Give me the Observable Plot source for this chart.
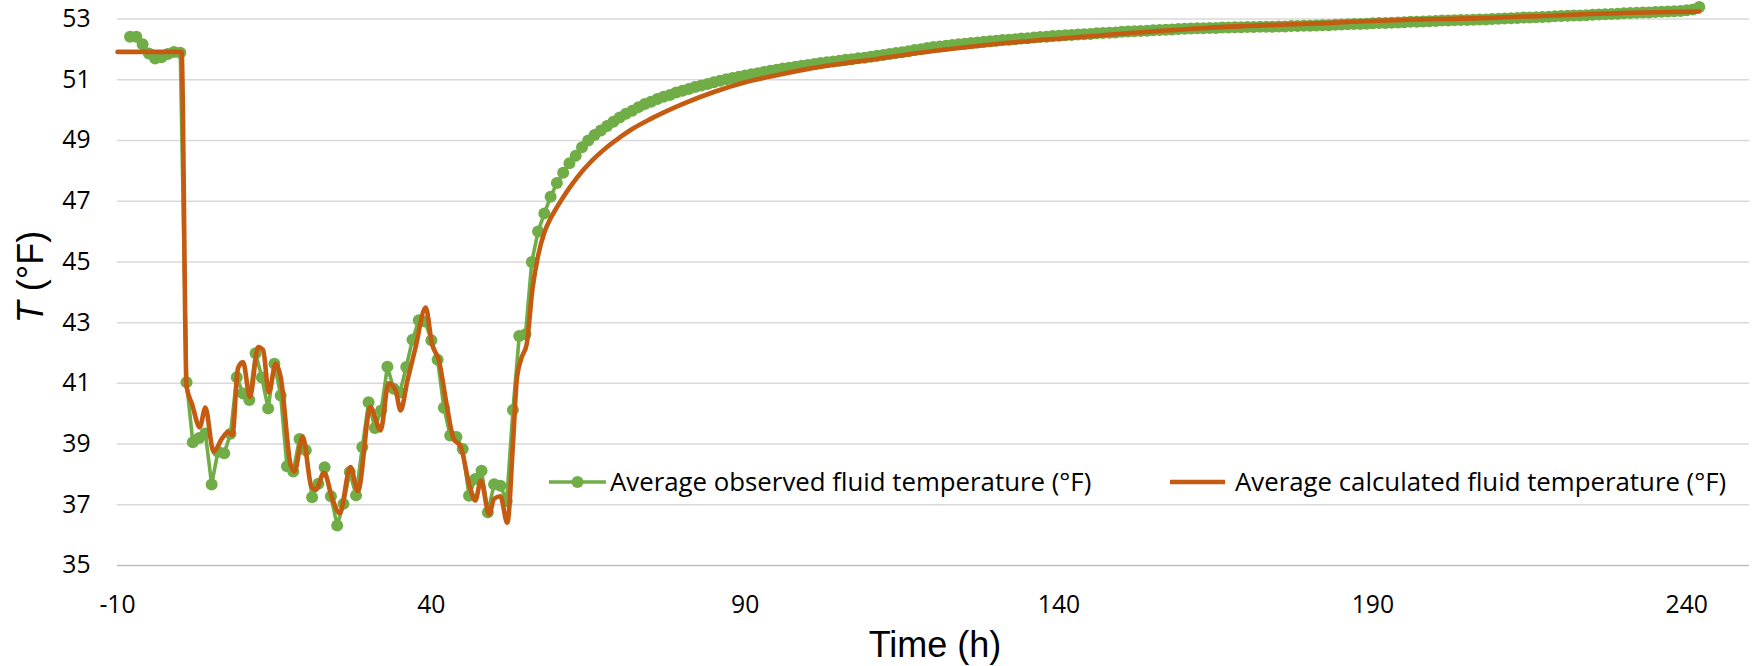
<!DOCTYPE html>
<html>
<head>
<meta charset="utf-8">
<script src="https://cdn.jsdelivr.net/npm/d3@7"></script>
<script src="https://cdn.jsdelivr.net/npm/@observablehq/plot@0.6"></script>
<style>
  html, body { margin: 0; padding: 0; background: #fff; }
  #chart { width: 1752px; height: 666px; position: relative; }
</style>
</head>
<body>
<div id="chart"></div>
<script>
// ---------- data ----------
const seriesNames = [
  "Average observed fluid temperature (°F)",
  "Average calculated fluid temperature (°F)"
];
const xTickValues = [-10, 40, 90, 140, 190, 240];
const yTickValues = [35, 37, 39, 41, 43, 45, 47, 49, 51, 53];
const xTitle = "Time (h)";
const yTitleItalic = "T";
const yTitleRest = " (°F)";

// observed: hourly readings
const obsHours = [
  -8, -7, -6, -5, -4, -3, -2, -1, 0, 1,
  2, 3, 4, 5, 6, 7, 8, 9, 10, 11,
  12, 13, 14, 15, 16, 17, 18, 19, 20, 21,
  22, 23, 24, 25, 26, 27, 28, 29, 30, 31,
  32, 33, 34, 35, 36, 37, 38, 39, 40, 41,
  42, 43, 44, 45, 46, 47, 48, 49, 50, 51,
  52, 53, 54, 55, 56, 57, 58, 59, 60, 61,
  62, 63, 64, 65, 66, 67, 68, 69, 70, 71,
  72, 73, 74, 75, 76, 77, 78, 79, 80, 81,
  82, 83, 84, 85, 86, 87, 88, 89, 90, 91,
  92, 93, 94, 95, 96, 97, 98, 99, 100, 101,
  102, 103, 104, 105, 106, 107, 108, 109, 110, 111,
  112, 113, 114, 115, 116, 117, 118, 119, 120, 121,
  122, 123, 124, 125, 126, 127, 128, 129, 130, 131,
  132, 133, 134, 135, 136, 137, 138, 139, 140, 141,
  142, 143, 144, 145, 146, 147, 148, 149, 150, 151,
  152, 153, 154, 155, 156, 157, 158, 159, 160, 161,
  162, 163, 164, 165, 166, 167, 168, 169, 170, 171,
  172, 173, 174, 175, 176, 177, 178, 179, 180, 181,
  182, 183, 184, 185, 186, 187, 188, 189, 190, 191,
  192, 193, 194, 195, 196, 197, 198, 199, 200, 201,
  202, 203, 204, 205, 206, 207, 208, 209, 210, 211,
  212, 213, 214, 215, 216, 217, 218, 219, 220, 221,
  222, 223, 224, 225, 226, 227, 228, 229, 230, 231,
  232, 233, 234, 235, 236, 237, 238, 239, 240, 241,
  242
];
const obsTemps = [
  52.42, 52.42, 52.17, 51.87, 51.70, 51.74, 51.85, 51.92, 51.89, 41.04,
  39.06, 39.20, 39.35, 37.67, 38.75, 38.70, 39.34, 41.20, 40.67, 40.45,
  41.99, 41.19, 40.17, 41.65, 40.60, 38.27, 38.10, 39.17, 38.80, 37.25,
  37.69, 38.24, 37.28, 36.32, 37.03, 38.08, 37.31, 38.90, 40.38, 39.53,
  40.11, 41.55, 40.82, 40.70, 41.54, 42.44, 43.08, 43.04, 42.42, 41.78,
  40.20, 39.28, 39.23, 38.84, 37.30, 37.85, 38.12, 36.75, 37.68, 37.63,
  37.12, 40.12, 42.56, 42.62, 45.00, 46.00, 46.60, 47.15, 47.60, 47.94,
  48.25, 48.50, 48.78, 49.00, 49.18, 49.33, 49.48, 49.62, 49.76, 49.88,
  49.98, 50.10, 50.20, 50.28, 50.37, 50.44, 50.50, 50.58, 50.64, 50.70,
  50.76, 50.81, 50.86, 50.92, 50.97, 51.02, 51.06, 51.10, 51.14, 51.18,
  51.22, 51.26, 51.30, 51.33, 51.37, 51.40, 51.43, 51.46, 51.49, 51.52,
  51.55, 51.58, 51.60, 51.63, 51.66, 51.68, 51.71, 51.73, 51.76, 51.79,
  51.82, 51.85, 51.88, 51.91, 51.94, 51.98, 52.01, 52.05, 52.08, 52.10,
  52.12, 52.15, 52.17, 52.19, 52.21, 52.23, 52.25, 52.27, 52.29, 52.31,
  52.32, 52.34, 52.36, 52.37, 52.39, 52.41, 52.42, 52.44, 52.45, 52.47,
  52.48, 52.49, 52.50, 52.51, 52.53, 52.54, 52.55, 52.56, 52.58, 52.59,
  52.60, 52.61, 52.62, 52.63, 52.64, 52.65, 52.66, 52.67, 52.68, 52.69,
  52.70, 52.70, 52.71, 52.71, 52.72, 52.72, 52.73, 52.73, 52.74, 52.74,
  52.75, 52.75, 52.75, 52.76, 52.76, 52.77, 52.77, 52.78, 52.78, 52.79,
  52.80, 52.80, 52.81, 52.82, 52.83, 52.84, 52.84, 52.85, 52.86, 52.87,
  52.87, 52.88, 52.89, 52.90, 52.91, 52.91, 52.92, 52.93, 52.94, 52.95,
  52.95, 52.96, 52.97, 52.97, 52.98, 52.99, 52.99, 53.00, 53.01, 53.02,
  53.03, 53.04, 53.05, 53.05, 53.06, 53.07, 53.08, 53.09, 53.10, 53.11,
  53.12, 53.12, 53.13, 53.14, 53.15, 53.16, 53.17, 53.18, 53.19, 53.20,
  53.21, 53.22, 53.22, 53.23, 53.24, 53.25, 53.26, 53.27, 53.29, 53.32,
  53.40
];

// calculated: points
const calcHours = [
  -10, 0.2, 1.0, 1.9, 3.1, 4.0, 5.3, 6.7, 7.6, 8.3,
  9.2, 10.0, 11.1, 12.4, 13.2, 14.1, 15.2, 16.0, 17.6, 18.2,
  19.5, 20.9, 21.6, 22.9, 24.3, 25.4, 27.1, 28.3, 30.3, 31.9,
  33.2, 34.3, 35.1, 36.2, 37.5, 39.1, 40.1, 41.2, 42.5, 43.5,
  44.7, 46.0, 47.0, 47.9, 49.2, 50.0, 51.0, 52.1, 53.0, 53.6,
  54.3, 55.2, 56.1, 57.0, 58.0, 59.0, 60.0, 61.0, 62.0, 63.0,
  64.0, 65.0, 66.0, 67.0, 68.0, 70.0, 72.0, 75.0, 80.0, 85.0,
  90.0, 95.0, 100.0, 105.0, 110.0, 120.0, 130.0, 141.3, 151.9, 162.6,
  173.2, 181.7, 188.6, 209.8, 231.0, 242.0
];
const calcTemps = [
  51.92, 51.92, 40.90, 40.30, 39.55, 40.20, 38.75, 39.20, 39.40, 39.30,
  41.50, 41.70, 40.55, 42.20, 42.10, 40.70, 41.65, 41.20, 38.30, 38.10,
  39.25, 37.60, 37.50, 38.05, 37.15, 36.72, 38.24, 37.45, 40.22, 39.45,
  41.00, 40.77, 40.11, 41.10, 42.20, 43.50, 42.30, 41.76, 40.22, 39.20,
  38.90, 37.70, 37.14, 37.80, 36.68, 37.20, 37.28, 36.40, 39.00, 41.10,
  41.80, 42.30, 44.10, 45.20, 45.97, 46.44, 46.80, 47.13, 47.44, 47.72,
  47.98, 48.21, 48.42, 48.61, 48.79, 49.10, 49.38, 49.72, 50.20, 50.60,
  50.92, 51.15, 51.36, 51.52, 51.66, 51.95, 52.18, 52.38, 52.55, 52.70,
  52.80, 52.86, 52.93, 53.05, 53.21, 53.25
];

// ---------- build ----------
const green = "#70ad47";
const orange = "#c55a11";
const obs = obsHours.map((t, i) => ({t, v: obsTemps[i]}));
const calc = calcHours.map((t, i) => ({t, v: calcTemps[i]}));

const chart = Plot.plot({
  width: 1752,
  height: 666,
  marginLeft: 117,
  marginRight: 3,
  marginTop: 18.6,
  marginBottom: 101,
  style: {fontFamily: "'Open Sans', sans-serif", fontSize: "24.7px", color: "#000", background: "#fff", overflow: "visible"},
  x: {domain: [-10, 250]},
  y: {domain: [35, 53]},
  marks: [
    Plot.gridY(yTickValues.filter(d => d > 35), {stroke: "#d9d9d9", strokeOpacity: 1, strokeWidth: 1.5}),
    Plot.ruleY([35], {stroke: "#bfbfbf", strokeWidth: 1.5}),
    Plot.axisY({ticks: yTickValues, tickSize: 0, tickPadding: 27, label: null, fontSize: 24.7, tickFormat: d => String(d)}),
    Plot.axisX({ticks: xTickValues, tickSize: 0, tickPadding: 30, label: null, fontSize: 24.7, tickFormat: d => String(d)}),
    Plot.line(obs, {x: "t", y: "v", stroke: green, strokeWidth: 3.6}),
    Plot.dot(obs, {x: "t", y: "v", r: 6, fill: green, stroke: "none"}),
    Plot.line(calc, {x: "t", y: "v", stroke: orange, strokeWidth: 4.6, curve: "monotone-x"})
  ]
});
document.getElementById("chart").append(chart);

// ---------- legend and axis titles ----------
const svg = d3.select(chart);
const legendItems = [
  {label: seriesNames[0], color: green, marker: true, x0: 549, x1: 606, tx: 610},
  {label: seriesNames[1], color: orange, marker: false, x0: 1170, x1: 1225, tx: 1235}
];
const lg = svg.append("g").attr("class", "legend").attr("text-anchor", "start");
const ly = 482;
for (const it of legendItems) {
  lg.append("line").attr("x1", it.x0).attr("x2", it.x1).attr("y1", ly).attr("y2", ly)
    .attr("stroke", it.color).attr("stroke-width", it.marker ? 3.6 : 4.6);
  if (it.marker) lg.append("circle").attr("cx", (it.x0 + it.x1) / 2).attr("cy", ly).attr("r", 6).attr("fill", it.color);
  lg.append("text").attr("x", it.tx).attr("y", ly + 9.2).attr("text-anchor", "start")
    .attr("font-family", "'Open Sans', sans-serif").attr("font-size", 25.8).attr("fill", "#000")
    .text(it.label);
}
svg.append("text").attr("x", 935).attr("y", 656.7).attr("text-anchor", "middle")
  .attr("font-family", "'Liberation Sans', Arial, sans-serif").attr("font-size", 36).attr("fill", "#000")
  .text(xTitle);
const yt = svg.append("text").attr("transform", "translate(43,277) rotate(-90)").attr("text-anchor", "middle")
  .attr("font-family", "'Liberation Sans', Arial, sans-serif").attr("font-size", 36).attr("fill", "#000");
yt.append("tspan").attr("font-style", "italic").text(yTitleItalic);
yt.append("tspan").text(yTitleRest);
</script>
</body>
</html>
